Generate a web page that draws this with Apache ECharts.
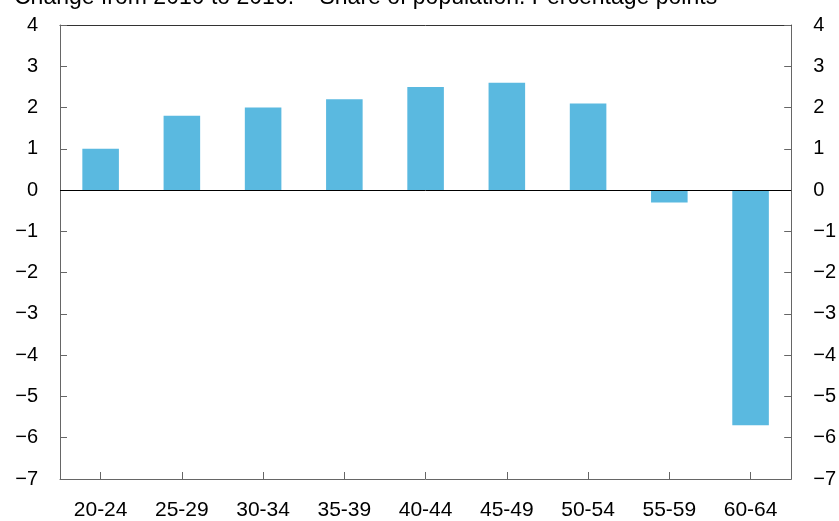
<!DOCTYPE html>
<html>
<head>
<meta charset="utf-8">
<script src="https://cdn.jsdelivr.net/npm/echarts@6/dist/echarts.min.js"></script>
<style>html,body{margin:0;padding:0;background:#fff;}#c{width:839px;height:521px;}</style>
</head>
<body>
<div id="c"></div>
<script>
const categories = ['20-24','25-29','30-34','35-39','40-44','45-49','50-54','55-59','60-64'];
const values = [1.0, 1.8, 2.0, 2.2, 2.5, 2.6, 2.1, -0.3, -5.7];
const titleText = 'Change from 2010 to 2016.\u00B9\u207E  Share of population. Percentage points';

const fmt = v => v < 0 ? '\u2212' + Math.abs(v) : String(v);
const font = 'Liberation Sans, Arial, Helvetica, sans-serif';
const axisCol = '#666';

const chart = echarts.init(document.getElementById('c'), null, {renderer: 'canvas'});
const yCommon = {
  type: 'value', min: -7, max: 4, interval: 1,
  axisLine: {show: true, lineStyle: {color: axisCol, width: 1}},
  axisTick: {show: true, inside: true, length: 7, lineStyle: {color: axisCol}},
  splitLine: {show: false},
  axisLabel: {formatter: fmt, color: '#000', fontSize: 20, fontFamily: font, margin: 22}
};
chart.setOption({
  animation: false,
  grid: {left: 60, right: 47, top: 25, bottom: 42, containLabel: false},
  graphic: [{
    type: 'text', left: 14, top: -14,
    style: {text: titleText, font: '23px ' + font, fill: '#000'}
  }],
  xAxis: [{
    type: 'category', data: categories, position: 'bottom',
    axisLine: {show: true, onZero: false, lineStyle: {color: axisCol}},
    axisTick: {show: true, inside: true, alignWithLabel: true, length: 7, lineStyle: {color: axisCol}},
    axisLabel: {color: '#000', fontSize: 21, fontFamily: font, margin: 21},
    splitLine: {show: false}
  }, {
    type: 'category', data: categories, position: 'top',
    axisLine: {show: true, onZero: false, lineStyle: {color: '#333'}},
    axisTick: {show: false}, axisLabel: {show: false}
  }],
  yAxis: [Object.assign({position: 'left'}, yCommon), Object.assign({position: 'right'}, yCommon)],
  series: [{
    type: 'bar', data: values, barWidth: '45%',
    itemStyle: {color: '#5ab9e0'},
    markLine: {
      silent: true, symbol: ['none','none'], label: {show: false},
      lineStyle: {color: '#000', width: 1, type: 'solid'},
      data: [{yAxis: 0}]
    }
  }]
});
</script>
</body>
</html>
